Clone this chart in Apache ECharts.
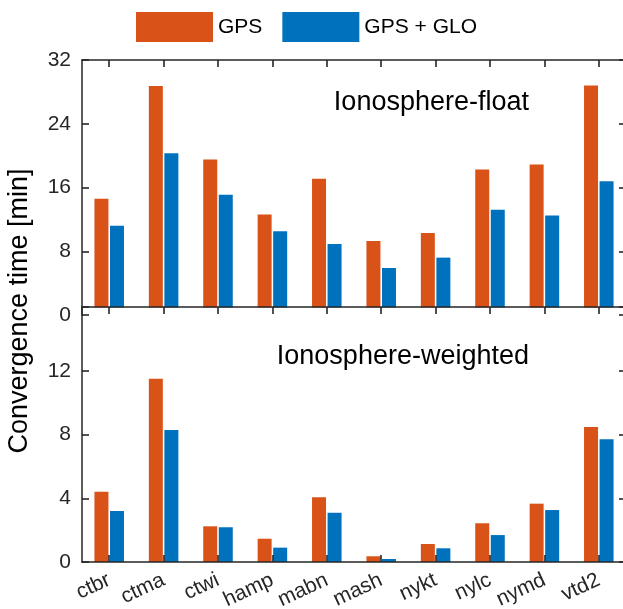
<!DOCTYPE html>
<html>
<head>
<meta charset="utf-8">
<script src="https://cdn.jsdelivr.net/npm/echarts@6/dist/echarts.min.js"></script>
<style>
html,body{margin:0;padding:0;background:#fff;}
#main{width:623px;height:609px;}
</style>
</head>
<body>
<div id="main"></div>
<script>
const categories = ['ctbr','ctma','ctwi','hamp','mabn','mash','nykt','nylc','nymd','vtd2'];
const seriesNames = ['GPS', 'GPS + GLO'];
const floatGPS = [14.6, 28.75, 19.5, 12.6, 17.1, 9.3, 10.3, 18.25, 18.9, 28.8];
const floatGPSGLO = [11.2, 20.3, 15.1, 10.5, 8.9, 5.9, 7.2, 13.2, 12.5, 16.8];
const weightedGPS = [4.41, 11.5, 2.24, 1.46, 4.06, 0.36, 1.13, 2.43, 3.66, 8.47];
const weightedGPSGLO = [3.2, 8.28, 2.18, 0.9, 3.09, 0.19, 0.86, 1.69, 3.26, 7.7];
const panelTitles = ['Ionosphere-float', 'Ionosphere-weighted'];
const yTitle = 'Convergence time [min]';

const FONT = '"Liberation Sans", Arial, Helvetica, sans-serif';
const AX = '#262626';
const ORANGE = '#D95319';
const BLUE = '#0072BD';

function axLine() { return {show: true, onZero: false, lineStyle: {color: AX, width: 1.5}}; }
function catTick() { return {show: true, inside: true, length: 7, interval: 0, alignWithLabel: true, lineStyle: {color: AX, width: 1.6}}; }
function valTick() { return {show: true, inside: true, length: 7, lineStyle: {color: AX, width: 1.6}}; }

const chart = echarts.init(document.getElementById('main'), null, {renderer: 'canvas'});

const option = {
  animation: false,
  backgroundColor: '#fff',
  legend: {
    data: seriesNames,
    left: 136, top: 12, padding: 0,
    itemWidth: 77, itemHeight: 30, itemGap: 20,
    icon: 'rect',
    textStyle: {fontSize: 21, fontFamily: FONT, color: '#000'}
  },
  grid: [
    {left: 82, top: 60, width: 544, height: 255, containLabel: false, outerBoundsMode: 'none'},
    {left: 82, top: 307, width: 544, height: 255, containLabel: false, outerBoundsMode: 'none'}
  ],
  xAxis: [
    {gridIndex: 0, type: 'category', data: categories, position: 'top', z: 60,
     axisLine: axLine(), axisTick: catTick(),
     axisLabel: {show: false, interval: 0}, splitLine: {show: false}},
    {gridIndex: 1, type: 'category', data: categories, position: 'bottom', z: 60,
     axisLine: axLine(), axisTick: catTick(),
     axisLabel: {show: true, interval: 0, rotate: 25, margin: 17, fontSize: 21, fontFamily: FONT, color: AX},
     splitLine: {show: false}},
    {gridIndex: 1, type: 'category', data: categories, position: 'top', z: 60,
     axisLine: axLine(), axisTick: catTick(),
     axisLabel: {show: false, interval: 0}, splitLine: {show: false}}
  ],
  yAxis: [
    {gridIndex: 0, type: 'value', min: 0, max: 32, interval: 8, position: 'left', z: 60,
     axisLine: axLine(), axisTick: valTick(),
     axisLabel: {fontSize: 21, fontFamily: FONT, color: AX, margin: 11},
     splitLine: {show: false}},
    {gridIndex: 0, type: 'value', min: 0, max: 32, interval: 8, position: 'right', z: 60,
     axisLine: axLine(), axisTick: valTick(),
     axisLabel: {show: false}, splitLine: {show: false}},
    {gridIndex: 1, type: 'value', min: 0, max: 16, interval: 4, position: 'left', z: 60,
     axisLine: axLine(), axisTick: valTick(),
     axisLabel: {fontSize: 21, fontFamily: FONT, color: AX, margin: 11,
       formatter: v => (v === 16 ? '' : String(v))},
     splitLine: {show: false}},
    {gridIndex: 1, type: 'value', min: 0, max: 16, interval: 4, position: 'right', z: 60,
     axisLine: axLine(), axisTick: valTick(),
     axisLabel: {show: false}, splitLine: {show: false}}
  ],
  series: [
    {name: seriesNames[0], type: 'bar', xAxisIndex: 0, yAxisIndex: 0, data: floatGPS,
     barWidth: 14, barGap: '11%', itemStyle: {color: ORANGE}},
    {name: seriesNames[1], type: 'bar', xAxisIndex: 0, yAxisIndex: 0, data: floatGPSGLO,
     barWidth: 14, barGap: '11%', itemStyle: {color: BLUE}},
    {name: seriesNames[0], type: 'bar', xAxisIndex: 1, yAxisIndex: 2, data: weightedGPS,
     barWidth: 14, barGap: '11%', itemStyle: {color: ORANGE}},
    {name: seriesNames[1], type: 'bar', xAxisIndex: 1, yAxisIndex: 2, data: weightedGPSGLO,
     barWidth: 14, barGap: '11%', itemStyle: {color: BLUE}}
  ],
  graphic: [
    {type: 'rect', z: 50, shape: {x: 84, y: 307.5, width: 541, height: 10}, style: {fill: '#fff'}},
    {type: 'text', z: 70, x: 529, y: 103,
     style: {text: panelTitles[0], font: '27px ' + FONT, fill: '#000', textAlign: 'right', textVerticalAlign: 'middle'}},
    {type: 'text', z: 70, x: 529, y: 357,
     style: {text: panelTitles[1], font: '27px ' + FONT, fill: '#000', textAlign: 'right', textVerticalAlign: 'middle'}},
    {type: 'text', z: 70, x: 20, y: 311, rotation: Math.PI / 2,
     style: {text: yTitle, font: '27px ' + FONT, fill: '#000', textAlign: 'center', textVerticalAlign: 'middle'}}
  ]
};
chart.setOption(option);
</script>
</body>
</html>
